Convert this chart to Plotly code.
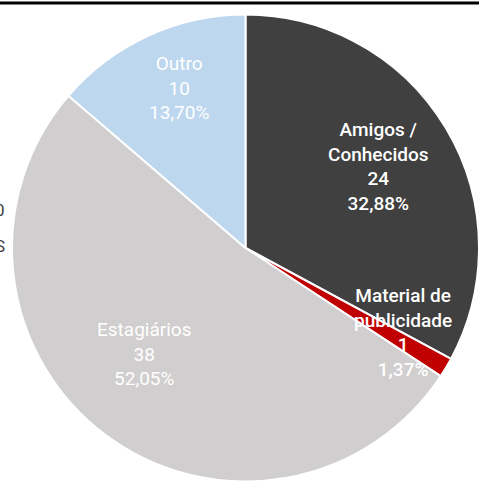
import plotly.graph_objects as go

labels = ["Amigos / Conhecidos", "Material de publicidade", "Estagiários", "Outro"]
label_lines = ["Amigos /<br>Conhecidos", "Material de<br>publicidade", "Estagiários", "Outro"]
values = [24, 1, 38, 10]
colors = ["#404040", "#c00000", "#d0cece", "#bdd7ee"]

W, H = 479, 482
total = sum(values)


def pct(v):
    return f"{v / total * 100:.2f}%".replace(".", ",")


fig = go.Figure(
    go.Pie(
        labels=labels,
        values=values,
        sort=False,
        direction="clockwise",
        rotation=0,
        textinfo="none",
        hoverinfo="label+value+percent",
        marker=dict(colors=colors, line=dict(color="white", width=2)),
        domain=dict(x=[12 / W, 1.0], y=[0, 1 - 14 / H]),
        showlegend=False,
    )
)

# label positions in pixels (x, y of the text block centre)
label_pos = [(378, 166), (403, 332), (144, 354), (179, 88)]
label_size = [19, 19, 19, 19]
label_weight = [500, 500, 400, 400]

font_family = "Roboto, sans-serif"
annotations = []
for i, (px, py) in enumerate(label_pos):
    annotations.append(
        dict(
            x=px / W,
            y=1 - py / H,
            xref="paper",
            yref="paper",
            xanchor="center",
            yanchor="middle",
            text=f"{label_lines[i]}<br>{values[i]}<br>{pct(values[i])}",
            showarrow=False,
            align="center",
            font=dict(family=font_family, size=label_size[i], color="white",
                      weight=label_weight[i]),
        )
    )

# bits of neighbouring text cut off at the left edge
for txt, py in [("0", 210), ("S", 246)]:
    annotations.append(
        dict(
            x=7 / W, y=1 - py / H, xref="paper", yref="paper",
            xanchor="right", yanchor="middle",
            text=txt, showarrow=False,
            font=dict(family="Roboto", size=17, color="#404040"),
        )
    )

fig.update_layout(
    width=W,
    height=H,
    margin=dict(l=0, r=0, t=0, b=0),
    paper_bgcolor="white",
    plot_bgcolor="white",
    annotations=annotations,
    shapes=[
        dict(type="line", xref="paper", yref="paper",
             x0=0, x1=1, y0=1 - 3 / H, y1=1 - 3 / H,
             line=dict(color="black", width=3))
    ],
)

fig.write_html("out.html", config={"displayModeBar": False},
               post_script="document.body.style.margin='0';")
